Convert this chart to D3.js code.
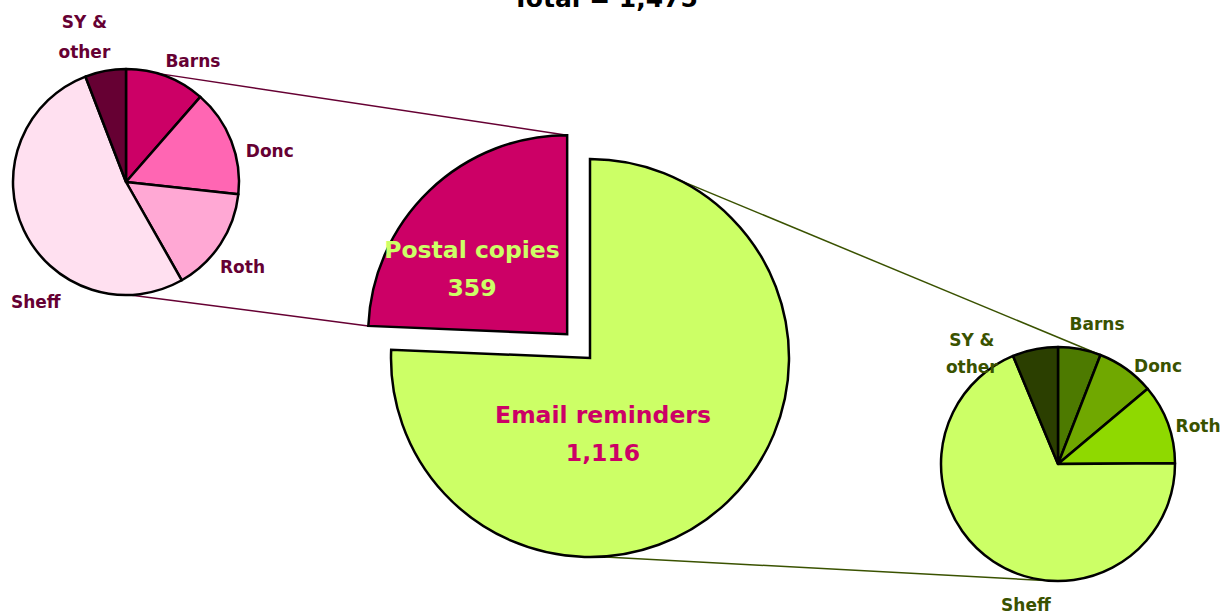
<!DOCTYPE html>
<html>
<head>
<meta charset="utf-8">
<script src="https://d3js.org/d3.v7.min.js"></script>
<style>
  body { margin: 0; background: #fff; }
  text { font-family: "DejaVu Sans", Verdana, sans-serif; font-weight: bold; }
</style>
</head>
<body>
<svg id="chart"></svg>
<script>
// ---- data ----
var title = "Total = 1,475";
var mainNames = ["Email reminders", "Postal copies"];
var mainValues = [1116, 359];
var mainLabels = ["1,116", "359"];

var areaNames = ["Barns", "Donc", "Roth", "Sheff", "SY & other"];
var postalValues = [41, 55, 54, 188, 21];
var emailValues = [66, 89, 123, 768, 70];

// ---- layout / styles ----
var width = 1232, height = 616;
var main = {cx: 590, cy: 358, r: 199, explode: 33};
var left = {cx: 126, cy: 182, r: 113};
var right = {cx: 1058, cy: 464, r: 117};

var mainColors = ["#CCFF66", "#CC0066"];
var mainTextColors = ["#CC0066", "#CCFF66"];
var postalColors = ["#CC0066", "#FF66B3", "#FFA8D4", "#FFE0F0", "#660033"];
var emailColors = ["#4D7A00", "#70A800", "#8FD900", "#CCFF66", "#2B3F00"];
var postalInk = "#660033", emailInk = "#3A5200";

// label placement, polar (degrees clockwise from top, distance from centre)
var leftLabelAt = [[29, 138], [78, 147], [126, 144], [217, 150], [344, 151]];
var rightLabelAt = [[15.6, 145], [45.6, 140], [75, 145], [192.8, 145], [322, 140]];

var svg = d3.select("#chart").attr("width", width).attr("height", height);

function rad(deg) { return deg * Math.PI / 180; }
function polar(c, ang, dist) {
  return [c.cx + dist * Math.sin(ang), c.cy - dist * Math.cos(ang)];
}

var pie = d3.pie().sort(null).value(function(d) { return d; });

// main pie
var mainArcs = pie(mainValues);
var emailArc = mainArcs[0], postalArc = mainArcs[1];
var pMid = (postalArc.startAngle + postalArc.endAngle) / 2;
var postalCentre = {
  cx: main.cx + main.explode * Math.sin(pMid),
  cy: main.cy - main.explode * Math.cos(pMid),
  r: main.r
};

// connector lines (drawn first)
var lines = [
  {a: polar(left, rad(16), left.r), b: polar(postalCentre, postalArc.endAngle, main.r), c: postalInk},
  {a: polar(left, rad(178), left.r), b: polar(postalCentre, postalArc.startAngle, main.r), c: postalInk},
  {a: polar(main, rad(26.3), main.r), b: polar(right, rad(21), right.r), c: emailInk},
  {a: polar(main, rad(177), main.r), b: polar(right, rad(182), right.r), c: emailInk}
];
svg.selectAll("line.conn").data(lines).enter().append("line")
  .attr("class", "conn")
  .attr("x1", function(d) { return d.a[0]; })
  .attr("y1", function(d) { return d.a[1]; })
  .attr("x2", function(d) { return d.b[0]; })
  .attr("y2", function(d) { return d.b[1]; })
  .attr("stroke", function(d) { return d.c; })
  .attr("stroke-width", 1.5);

var mainArc = d3.arc().innerRadius(0).outerRadius(main.r);
var mainG = svg.append("g");
mainG.selectAll("path").data(mainArcs).enter().append("path")
  .attr("transform", function(d, i) {
    var c = i === 1 ? postalCentre : main;
    return "translate(" + c.cx + "," + c.cy + ")";
  })
  .attr("d", mainArc)
  .attr("fill", function(d, i) { return mainColors[i]; })
  .attr("stroke", "#000")
  .attr("stroke-width", 2.5)
  .attr("stroke-linejoin", "miter");

// main labels
var mainLabelPos = [[603, 423], [472, 258]];
mainArcs.forEach(function(d, i) {
  var t = svg.append("text")
    .attr("text-anchor", "middle")
    .attr("fill", mainTextColors[i])
    .style("font-size", "23.5px");
  t.append("tspan").attr("x", mainLabelPos[i][0]).attr("y", mainLabelPos[i][1]).text(mainNames[i]);
  t.append("tspan").attr("x", mainLabelPos[i][0]).attr("y", mainLabelPos[i][1] + 38).text(mainLabels[i]);
});

// secondary pies
function drawSmall(c, values, colors, ink, labelAt, lineGap) {
  var arcs = pie(values);
  var arc = d3.arc().innerRadius(0).outerRadius(c.r);
  var g = svg.append("g").attr("transform", "translate(" + c.cx + "," + c.cy + ")");
  g.selectAll("path").data(arcs).enter().append("path")
    .attr("d", arc)
    .attr("fill", function(d, i) { return colors[i]; })
    .attr("stroke", "#000")
    .attr("stroke-width", 2.5)
    .attr("stroke-linejoin", "round");

  arcs.forEach(function(d, i) {
    var p = polar(c, rad(labelAt[i][0]), labelAt[i][1]);
    var words = areaNames[i] === "SY & other" ? ["SY &", "other"] : [areaNames[i]];
    var t = svg.append("text")
      .attr("text-anchor", "middle")
      .attr("fill", ink)
      .style("font-size", "17px");
    var y0 = p[1] + 6 - (words.length - 1) * lineGap / 2;
    words.forEach(function(w, k) {
      t.append("tspan").attr("x", p[0]).attr("y", y0 + k * lineGap).text(w);
    });
  });
}
drawSmall(left, postalValues, postalColors, postalInk, leftLabelAt, 30);
drawSmall(right, emailValues, emailColors, emailInk, rightLabelAt, 27);

// title
svg.append("text")
  .attr("x", 605)
  .attr("y", 7)
  .attr("text-anchor", "middle")
  .attr("fill", "#000")
  .style("font-size", "25px")
  .text(title);
</script>
</body>
</html>
